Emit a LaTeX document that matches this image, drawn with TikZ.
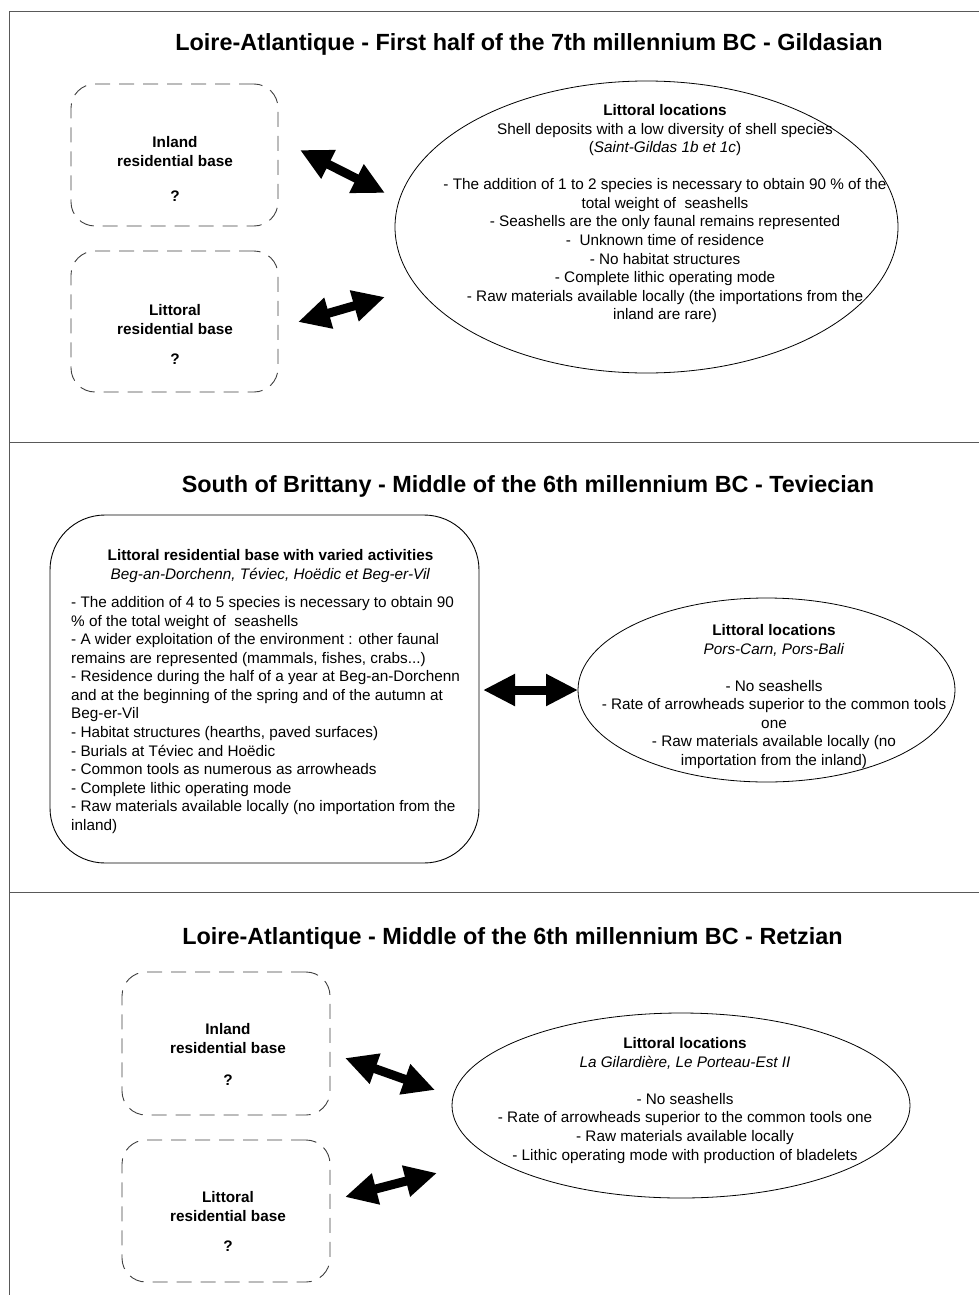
\documentclass[tikz,border=0pt]{standalone}
\usepackage{fontspec}
\setmainfont{Liberation Sans}
\usetikzlibrary{shapes.geometric,arrows.meta}
\tikzset{
  frame/.style={draw=black!65, line width=1pt},
  dashbox/.style={draw=black!75, line width=0.9pt, dash pattern=on 15pt off 9pt, rounded corners=24pt, inner sep=0},
  solidbox/.style={draw, line width=0.9pt, rounded corners=55pt, inner sep=0},
  oval/.style={ellipse, draw, line width=0.8pt, inner sep=0},
  bigarrow/.style={line width=9pt, {Triangle[length=32pt,width=30pt]}-{Triangle[length=32pt,width=30pt]}},
  body/.style={font=\fontsize{15.3}{18.55}\selectfont, inner sep=0, align=center, anchor=north},
  bodyb/.style={body, font=\fontsize{15.3}{18.55}\selectfont\bfseries},
  ttl/.style={font=\fontsize{23.4}{28}\selectfont\bfseries, inner sep=0, anchor=base},
}
\begin{document}
\begin{tikzpicture}[x=1pt,y=-1pt]
\useasboundingbox (0,0) rectangle (979,1295);
% frame
\coordinate (ftl) at (9,12);
\coordinate (ftr) at (979,12);
\coordinate (fbl) at (9,1295);
\coordinate (s1l) at (9,442);
\coordinate (s1r) at (979,442);
\coordinate (s2l) at (9,892);
\coordinate (s2r) at (979,892);
\draw[frame] (ftr) -- (ftl) -- (fbl);
\draw[frame] (s1l) -- (s1r);
\draw[frame] (s2l) -- (s2r);

% ---------- Section 1 ----------
\node[ttl] (t1) at (529,50.5) {Loire-Atlantique - First half of the 7th millennium BC - Gildasian};
\node[dashbox, minimum width=207pt, minimum height=142pt] (b11) at (174.5,155) {};
\node[dashbox, minimum width=207pt, minimum height=141pt] (b12) at (174.5,321.5) {};
\node[bodyb] (b11t) at (175,136.4) {Inland\\residential base\\[16.5pt]?};
\node[bodyb] (b12t) at (175,304.4) {Littoral\\residential base\\[11.5pt]?};
\node[oval, minimum width=503pt, minimum height=292pt] (e1) at (646.5,227) {};
\node[body] (e1t) at (665,104.4) {\textbf{Littoral locations}\\
Shell deposits with a low diversity of shell species\\
(\textit{Saint-Gildas 1b et 1c})\\[18.55pt]
- The addition of 1 to 2 species is necessary to obtain 90 \% of the\\
total weight of~ seashells\\
- Seashells are the only faunal remains represented\\
-~ Unknown time of residence\\
- No habitat structures\\
- Complete lithic operating mode\\
- Raw materials available locally (the importations from the\\
inland are rare)};
\coordinate (a1s) at (300,150);
\coordinate (a1e) at (385,193);
\coordinate (a2s) at (298,322);
\coordinate (a2e) at (385,297);
\draw[bigarrow] (a1s) -- (a1e);
\draw[bigarrow] (a2s) -- (a2e);

% ---------- Section 2 ----------
\node[ttl] (t2) at (528,492.5) {South of Brittany - Middle of the 6th millennium BC - Teviecian};
\node[solidbox, minimum width=429pt, minimum height=348pt] (r2) at (264.5,689) {};
\node[body] (r2h) at (270.5,549.4) {\textbf{Littoral residential base with varied activities}\\
\textit{Beg-an-Dorchenn, Téviec, Hoëdic et Beg-er-Vil}};
\node[body, align=left, anchor=north west] (r2b) at (71,596.4) {- The addition of 4 to 5 species is necessary to obtain 90\\
\% of the total weight of~ seashells\\
- A wider exploitation of the environment : other faunal\\
remains are represented (mammals, fishes, crabs...)\\
- Residence during the half of a year at Beg-an-Dorchenn\\
and at the beginning of the spring and of the autumn at\\
Beg-er-Vil\\
- Habitat structures (hearths, paved surfaces)\\
- Burials at Téviec and Hoëdic\\
- Common tools as numerous as arrowheads\\
- Complete lithic operating mode\\
- Raw materials available locally (no importation from the\\
inland)};
\node[oval, minimum width=377pt, minimum height=184pt] (e2) at (766.5,690) {};
\node[body] (e2t) at (774,624.4) {\textbf{Littoral locations}\\
\textit{Pors-Carn, Pors-Bali}\\[18.55pt]
- No seashells\\
- Rate of arrowheads superior to the common tools\\
one\\
- Raw materials available locally (no\\
importation from the inland)};
\coordinate (a3s) at (483,690);
\coordinate (a3e) at (578,690);
\draw[bigarrow] (a3s) -- (a3e);

% ---------- Section 3 ----------
\node[ttl] (t3) at (512.5,944.5) {Loire-Atlantique - Middle of the 6th millennium BC - Retzian};
\node[dashbox, minimum width=208pt, minimum height=143pt] (b31) at (226,1043.5) {};
\node[dashbox, minimum width=208pt, minimum height=142pt] (b32) at (226,1211) {};
\node[bodyb] (b31t) at (228,1023.4) {Inland\\residential base\\[13.5pt]?};
\node[bodyb] (b32t) at (228,1191.4) {Littoral\\residential base\\[11.5pt]?};
\node[oval, minimum width=458pt, minimum height=185pt] (e3) at (681,1105.5) {};
\node[body] (e3t) at (685,1037.4) {\textbf{Littoral locations}\\
\textit{La Gilardière, Le Porteau-Est II}\\[18.55pt]
- No seashells\\
- Rate of arrowheads superior to the common tools one\\
- Raw materials available locally\\
- Lithic operating mode with production of bladelets};
\coordinate (a4s) at (345,1058);
\coordinate (a4e) at (435,1090);
\coordinate (a5s) at (345,1197);
\coordinate (a5e) at (437,1173);
\draw[bigarrow] (a4s) -- (a4e);
\draw[bigarrow] (a5s) -- (a5e);
\end{tikzpicture}
\end{document}
